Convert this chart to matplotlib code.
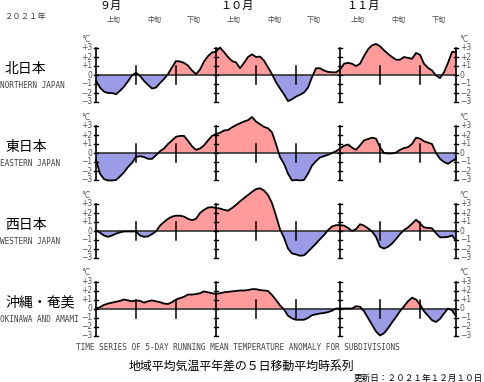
import numpy as np
import matplotlib.pyplot as plt

plt.rcParams['font.family'] = ['Noto Sans CJK JP', 'DejaVu Sans']

W, H = 484, 382

# days from Sep 1 (0) to Nov 30 (90)
days = np.arange(91)

north = [-0.65, -1.4, -1.85, -2.0, -2.0, -2.15, -1.75, -1.3, -0.7, -0.05,
         0.25, -0.1, -0.65, -1.1, -1.5, -1.4, -0.9, -0.45, 0.1, 0.85,
         1.55, 1.5, 1.35, 1.05, 0.5, 0.1, 0.6, 1.5, 2.1, 2.5,
         2.6, 3.05, 2.55, 2.0, 1.55, 1.4, 0.75, 1.35, 2.0, 2.3,
         2.0, 2.05, 1.6, 0.85, 0.1, -0.8, -1.5, -2.15, -2.9, -2.7,
         -2.4, -2.2, -1.95, -1.4, -0.25, 0.75, 0.75, 0.5, 0.35, 0.3,
         0.3, 0.6, 1.25, 1.35, 1.25, 1.0, 1.25, 2.1, 2.85, 3.3,
         3.45, 3.2, 2.75, 2.35, 2.0, 1.7, 1.7, 2.0, 1.9, 1.8,
         2.45, 2.25, 1.25, 0.8, 0.5, -0.05, -0.35, 0.3, 1.35, 2.55, 2.6]

east = [-0.75, -2.3, -2.9, -3.05, -3.05, -3.0, -2.6, -2.15, -1.55, -1.1,
        -0.45, -0.35, -0.45, -0.65, -0.65, -0.25, 0.2, 0.5, 1.0, 1.4,
        1.8, 1.9, 1.9, 1.35, 0.75, 0.35, 0.5, 0.85, 1.4, 1.9,
        2.1, 2.25, 2.5, 2.55, 2.85, 3.1, 3.3, 3.5, 3.65, 4.0,
        3.5, 3.2, 2.9, 2.75, 2.3, 1.0, -0.45, -1.2, -2.3, -3.05,
        -3.0, -3.05, -3.0, -2.3, -1.4, -0.9, -0.5, -0.35, -0.2, 0.0,
        0.2, 0.5, 0.8, 0.95, 0.6, 0.35, 0.85, 1.4, 1.55, 1.7,
        1.6, 0.65, 0.0, -0.05, -0.05, 0.05, 0.35, 0.55, 0.65, 1.0,
        1.7, 1.6, 1.3, 1.15, 1.0, 0.0, -0.65, -1.0, -1.2, -0.9, -0.65]

west = [0.1, -0.2, -0.5, -0.65, -0.5, -0.3, -0.15, -0.05, -0.05, -0.05,
        -0.05, -0.5, -0.65, -0.6, -0.35, -0.05, 0.6, 1.0, 1.35, 1.6,
        1.7, 1.7, 1.6, 1.35, 1.2, 1.35, 2.0, 2.35, 2.6, 2.65,
        2.55, 2.5, 2.35, 2.25, 2.55, 2.9, 3.3, 3.65, 4.0, 4.35,
        4.65, 4.75, 4.5, 4.0, 3.1, 1.7, 0.2, -0.75, -1.95, -2.5,
        -2.6, -2.75, -2.7, -2.3, -1.85, -1.4, -0.9, -0.45, 0.1, 0.5,
        0.65, 0.65, 0.6, 0.35, 0.0, 0.2, 0.75, 0.6, 0.3, -0.05,
        -0.65, -1.75, -1.95, -1.75, -1.4, -0.9, -0.35, 0.1, 0.4, 0.8,
        1.25, 0.85, 0.4, 0.35, 0.3, -0.25, -0.7, -0.7, -0.65, -0.5, -1.05]

okinawa = [0.0, 0.15, 0.4, 0.55, 0.65, 0.75, 0.85, 1.0, 0.9, 0.8,
           0.9, 0.85, 0.65, 0.8, 0.9, 0.8, 0.7, 0.55, 0.5, 0.7,
           1.0, 1.15, 1.3, 1.55, 1.55, 1.6, 1.7, 1.9, 1.8, 1.7,
           1.6, 1.7, 1.8, 1.85, 1.9, 1.95, 2.0, 2.0, 2.05, 2.15,
           2.15, 2.05, 2.0, 1.95, 1.5, 0.95, 0.35, -0.1, -0.8, -1.1,
           -1.25, -1.25, -1.25, -1.05, -0.75, -0.65, -0.55, -0.5, -0.4, -0.25,
           0.0, 0.0, 0.0, 0.0, 0.0, 0.25, 0.2, -0.3, -1.05, -1.8,
           -2.55, -3.0, -2.75, -2.2, -1.55, -0.95, -0.3, 0.25, 0.8, 1.2,
           1.0, 0.45, -0.3, -0.8, -1.3, -1.5, -1.15, -0.55, 0.0, -0.2, -0.85]

series = [north, east, west, okinawa]
names_jp = ['北日本', '東日本', '西日本', '沖縄・奄美']
names_en = ['NORTHERN JAPAN', 'EASTERN JAPAN', 'WESTERN JAPAN', 'OKINAWA AND AMAMI']
levels = [3, 2, 1, 0, -1, -2, -3]
level_labels = ['+3', '+2', '+1', '0', '−1', '−2', '−3']
month_days = [0, 30, 61, 90]
dekad_days = [10, 20, 40, 50, 71, 81]
months = ['９月', '１０月', '１１月']
dekads = ['上旬', '中旬', '下旬'] * 3

RED = '#ff9b9b'
BLUE = '#9b9be6'
GRAY = '#555555'

fig = plt.figure(figsize=(W / 100, H / 100), dpi=100)
fig.patch.set_facecolor('white')


def ftext(x, y, s, **kw):
    fig.text(x / W, 1 - y / H, s, **kw)


zero_px = [75, 153, 231, 308.5]

for i, vals in enumerate(series):
    z = zero_px[i]
    ax = fig.add_axes([96 / W, 1 - (z + 27) / H, 360 / W, 54 / H])
    ax.set_xlim(0, 90)
    ax.set_ylim(-3, 3)
    ax.axis('off')
    v = np.array(vals)
    ax.fill_between(days, v, 0, where=v >= 0, interpolate=True,
                    color=RED, lw=0, clip_on=False)
    ax.fill_between(days, v, 0, where=v <= 0, interpolate=True,
                    color=BLUE, lw=0, clip_on=False)
    ax.plot([0, 90], [0, 0], color='#333333', lw=1.2, clip_on=False)
    ax.plot(days, v, color='black', lw=1.3, clip_on=False, zorder=4)
    for d in month_days:
        ax.plot([d, d], [-3, 3], color='black', lw=1.2, clip_on=False, zorder=5)
        for lv in levels:
            ax.plot([d - 0.55, d + 0.55], [lv, lv], color='black', lw=1.0,
                    clip_on=False, zorder=5)
    for d in dekad_days:
        ax.plot([d, d], [-1, 1], color='black', lw=1.1, clip_on=False, zorder=5)
    for lv, lab in zip(levels, level_labels):
        ax.text(-0.9, lv, lab, ha='right', va='center', fontsize=5.5,
                color=GRAY, family='DejaVu Sans')
        ax.text(91.0, lv, lab, ha='left', va='center', fontsize=5.5,
                color=GRAY, family='DejaVu Sans')
    ax.text(-2.6, 4.0, '°C', ha='center', va='center', fontsize=5.5,
            color=GRAY, family='DejaVu Sans')
    ax.text(92.0, 4.0, '°C', ha='center', va='center', fontsize=5.5,
            color=GRAY, family='DejaVu Sans')

    ftext(5, z - 6, names_jp[i], ha='left', va='center', fontsize=10)
    ftext(0, z + 11, names_en[i], ha='left', va='center', fontsize=5.6,
          color='#444444', family='DejaVu Sans Mono')

# header
ftext(25, 16, '２０２１年', ha='center', va='center', fontsize=6, color='#444444')
for s, x in zip(months, [111, 237, 363]):
    ftext(x, 6, s, ha='center', va='center', fontsize=8)
for s, d in zip(dekads, [4.5, 14.5, 24.5, 34.5, 44.5, 54.5, 65.5, 75.5, 85.75]):
    ftext(96 + 4 * d, 20, s, ha='center', va='center', fontsize=5, color='#444444')

# footer
ftext(238, 348, 'TIME SERIES OF 5-DAY RUNNING MEAN TEMPERATURE ANOMALY FOR SUBDIVISIONS',
      ha='center', va='center', fontsize=5.6, color='#444444', family='DejaVu Sans Mono')
ftext(241, 366, '地域平均気温平年差の５日移動平均時系列', ha='center', va='center', fontsize=8.6)
ftext(483, 378, '更新日：２０２１年１２月１０日', ha='right', va='center', fontsize=6.2)

fig.savefig('out.png', dpi=100)
